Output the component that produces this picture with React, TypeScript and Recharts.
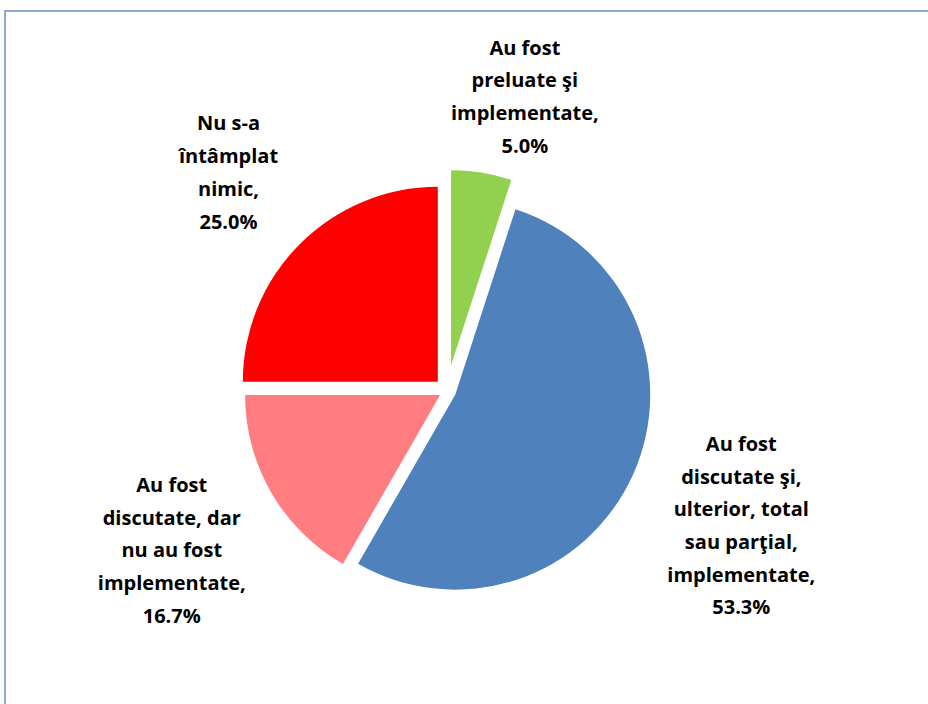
import React from "react";
import { PieChart, Pie, Cell } from "recharts";

// ---- data ----
const categories = [
  "Au fost preluate şi implementate",
  "Au fost discutate şi, ulterior, total sau parţial, implementate",
  "Au fost discutate, dar nu au fost implementate",
  "Nu s-a întâmplat nimic",
];
const values = [5.0, 53.3, 16.7, 25.0];
const labelLines = [
  ["Au fost", "preluate şi", "implementate,"],
  ["Au fost", "discutate şi,", "ulterior, total", "sau parţial,", "implementate,"],
  ["Au fost", "discutate, dar", "nu au fost", "implementate,"],
  ["Nu s-a", "întâmplat", "nimic,"],
];
const colors = ["#92D050", "#4F81BD", "#FF7C80", "#FF0000"];

// ---- layout / style ----
const W = 928;
const H = 704;
const MARGIN = 5;
const CX = 447 - MARGIN;
const CY = 391 - MARGIN;
const R = 195;
const explode = [26, 9, 8, 13];
const labelDist = [280, 313, 310, 296];
const labelShift = [
  { dx: 30, dy: 8 },
  { dx: 0, dy: 4 },
  { dx: 0, dy: 0 },
  { dx: 0, dy: 0 },
];
const FONT = "'Open Sans', Lato, sans-serif";
const FS = 20;
const LH = 32.7;

const data = categories.map((name, i) => ({ name, value: values[i] }));
const total = values.reduce((a, b) => a + b, 0);
const RAD = Math.PI / 180;

function midAngleOf(i: number) {
  const before = values.slice(0, i).reduce((a, b) => a + b, 0);
  return 90 - (360 * (before + values[i] / 2)) / total;
}

function makeLabel(visible: number) {
  return (props: any) => {
    const { index, cx, cy, midAngle, value } = props;
    if (index !== visible) return null;
    const d = labelDist[index];
    const x = cx + d * Math.cos(-midAngle * RAD) + labelShift[index].dx;
    const y = cy + d * Math.sin(-midAngle * RAD) + labelShift[index].dy;
    const lines = [...labelLines[index], `${Number(value).toFixed(1)}%`];
    const firstBaseline = y - ((lines.length - 1) / 2) * LH + 7;
    return (
      <text
        x={x}
        y={firstBaseline}
        textAnchor="middle"
        fontFamily={FONT}
        fontSize={FS}
        fontWeight={700}
        fill="#000"
      >
        {lines.map((ln, k) => (
          <tspan key={k} x={x} y={firstBaseline + k * LH}>
            {ln}
          </tspan>
        ))}
      </text>
    );
  };
}

export default function App() {
  return (
    <div
      style={{
        position: "absolute",
        left: 0,
        top: 0,
        width: W,
        height: H,
        overflow: "hidden",
        background: "#fff",
      }}
    >
      <div
        style={{
          position: "absolute",
          left: 4,
          top: 10,
          width: 1200,
          height: 1200,
          border: "2px solid #8EAADB",
          boxSizing: "border-box",
        }}
      />
      <div style={{ position: "absolute", left: 0, top: 0 }}>
        <PieChart
          width={W}
          height={H}
          margin={{ top: MARGIN, right: MARGIN, bottom: MARGIN, left: MARGIN }}
        >
          {data.map((_, i) => {
            const m = midAngleOf(i);
            const ox = CX + explode[i] * Math.cos(m * RAD);
            const oy = CY - explode[i] * Math.sin(m * RAD);
            return (
              <Pie
                key={i}
                data={data}
                dataKey="value"
                nameKey="name"
                cx={ox}
                cy={oy}
                innerRadius={0}
                outerRadius={R}
                startAngle={90}
                endAngle={-270}
                stroke="none"
                isAnimationActive={false}
                label={makeLabel(i)}
                labelLine={false}
              >
                {data.map((__, j) => (
                  <Cell key={j} fill={j === i ? colors[j] : "transparent"} />
                ))}
              </Pie>
            );
          })}
        </PieChart>
      </div>
    </div>
  );
}
